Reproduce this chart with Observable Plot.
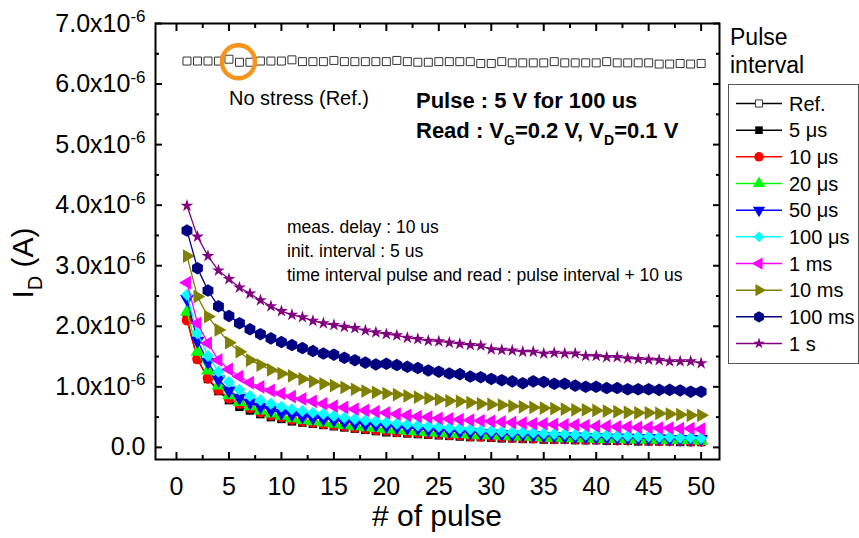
<!DOCTYPE html>
<html><head><meta charset="utf-8">
<script src="https://cdn.jsdelivr.net/npm/d3@7"></script>
<script src="https://cdn.jsdelivr.net/npm/@observablehq/plot@0.6"></script>
<style>
html,body{margin:0;padding:0;background:#fff;overflow:hidden;}
</style></head><body><div id="chart"></div>
<script>
// ---------- data ----------
const pulses = [1,2,3,4,5,6,7,8,9,10,11,12,13,14,15,16,17,18,19,20,21,22,23,24,25,26,27,28,29,30,31,32,33,34,35,36,37,38,39,40,41,42,43,44,45,46,47,48,49,50];
const seriesNames = ["Ref.", "5 μs", "10 μs", "20 μs", "50 μs", "100 μs", "1 ms", "10 ms", "100 ms", "1 s"];
// drain current in units of 1e-6 A
const refValues = [6.38,6.38,6.38,6.38,6.41,6.36,6.36,6.38,6.38,6.38,6.40,6.37,6.37,6.37,6.39,6.37,6.37,6.37,6.37,6.37,6.39,6.37,6.36,6.36,6.37,6.37,6.37,6.37,6.34,6.34,6.37,6.35,6.35,6.35,6.35,6.37,6.35,6.35,6.35,6.35,6.37,6.35,6.35,6.35,6.35,6.33,6.33,6.34,6.33,6.34];
const us5 = [2.12,1.46,1.13,0.93,0.78,0.67,0.61,0.55,0.50,0.47,0.43,0.41,0.39,0.37,0.35,0.33,0.31,0.29,0.27,0.25,0.24,0.23,0.22,0.21,0.20,0.19,0.18,0.17,0.17,0.16,0.15,0.15,0.14,0.14,0.13,0.13,0.13,0.12,0.12,0.12,0.11,0.11,0.11,0.10,0.10,0.10,0.10,0.09,0.09,0.09];
const us10 = [2.10,1.46,1.14,0.95,0.81,0.72,0.65,0.58,0.53,0.50,0.46,0.43,0.41,0.39,0.37,0.35,0.33,0.31,0.29,0.28,0.26,0.25,0.24,0.23,0.22,0.21,0.20,0.19,0.18,0.18,0.17,0.16,0.16,0.15,0.15,0.14,0.14,0.14,0.13,0.13,0.13,0.12,0.12,0.12,0.11,0.11,0.11,0.11,0.10,0.10];
const us20 = [2.24,1.58,1.27,1.02,0.86,0.75,0.68,0.61,0.56,0.52,0.48,0.45,0.43,0.41,0.39,0.37,0.35,0.33,0.32,0.30,0.29,0.27,0.26,0.25,0.24,0.23,0.22,0.21,0.20,0.20,0.19,0.18,0.18,0.17,0.16,0.16,0.15,0.15,0.15,0.14,0.14,0.14,0.13,0.13,0.13,0.12,0.12,0.12,0.12,0.11];
const us50 = [2.45,1.76,1.41,1.12,0.94,0.82,0.74,0.67,0.62,0.57,0.54,0.51,0.49,0.47,0.45,0.42,0.40,0.38,0.37,0.35,0.33,0.32,0.31,0.29,0.28,0.27,0.26,0.25,0.24,0.23,0.22,0.21,0.21,0.20,0.19,0.19,0.18,0.18,0.17,0.17,0.16,0.16,0.16,0.15,0.15,0.15,0.14,0.14,0.14,0.14];
const us100 = [2.52,1.88,1.51,1.25,1.08,0.95,0.85,0.78,0.72,0.67,0.63,0.60,0.57,0.55,0.52,0.49,0.47,0.45,0.43,0.41,0.39,0.38,0.36,0.35,0.34,0.32,0.31,0.30,0.28,0.27,0.26,0.25,0.25,0.24,0.23,0.22,0.22,0.21,0.21,0.20,0.20,0.19,0.19,0.18,0.18,0.17,0.17,0.16,0.16,0.15];
const ms1 = [2.72,2.05,1.72,1.44,1.29,1.17,1.07,1.00,0.94,0.89,0.84,0.80,0.76,0.72,0.68,0.66,0.63,0.61,0.59,0.57,0.55,0.53,0.51,0.50,0.48,0.47,0.46,0.45,0.44,0.43,0.42,0.41,0.40,0.39,0.39,0.38,0.37,0.37,0.36,0.35,0.35,0.34,0.34,0.33,0.33,0.32,0.32,0.31,0.31,0.30];
const ms10 = [3.16,2.49,2.16,1.94,1.73,1.58,1.44,1.36,1.28,1.22,1.18,1.13,1.09,1.05,1.02,0.99,0.96,0.93,0.91,0.89,0.87,0.85,0.83,0.81,0.79,0.77,0.76,0.74,0.72,0.71,0.70,0.68,0.67,0.66,0.65,0.64,0.63,0.62,0.62,0.61,0.60,0.59,0.58,0.57,0.57,0.56,0.55,0.54,0.53,0.53];
const ms100 = [3.58,2.96,2.59,2.33,2.17,2.05,1.95,1.87,1.80,1.74,1.69,1.64,1.59,1.55,1.53,1.48,1.44,1.40,1.37,1.38,1.36,1.33,1.31,1.27,1.25,1.22,1.21,1.17,1.16,1.13,1.11,1.09,1.06,1.09,1.08,1.05,1.05,1.02,1.00,1.00,0.98,0.98,0.96,0.96,0.96,0.95,0.95,0.94,0.92,0.92];
const s1 = [3.99,3.48,3.16,2.92,2.78,2.64,2.54,2.43,2.33,2.25,2.19,2.15,2.09,2.05,2.02,1.99,1.97,1.93,1.90,1.87,1.85,1.81,1.79,1.76,1.75,1.73,1.71,1.69,1.68,1.62,1.61,1.60,1.58,1.58,1.55,1.56,1.55,1.55,1.51,1.51,1.49,1.49,1.47,1.46,1.45,1.44,1.42,1.42,1.42,1.39];
const xMajorTicks = [0,5,10,15,20,25,30,35,40,45,50];
const xMinorTicks = [2.5,7.5,12.5,17.5,22.5,27.5,32.5,37.5,42.5,47.5];
const yMajorTicks = [0,1,2,3,4,5,6,7];
const yMinorTicks = [0.5,1.5,2.5,3.5,4.5,5.5,6.5];
const highlight = [{pulse: 5.9, id: 6.37}];

// ---------- symbols & styles ----------
const S3 = Math.sqrt(3);
function triangle(dir) {
  return {draw(ctx, size) {
    const t = Math.sqrt(size / (3 * S3));
    const p = {down: [[0,2*t],[S3*t,-t],[-S3*t,-t]],
               left: [[-2*t,0],[t,-S3*t],[t,S3*t]],
               right: [[2*t,0],[-t,-S3*t],[-t,S3*t]]}[dir];
    ctx.moveTo(p[0][0], p[0][1]); ctx.lineTo(p[1][0], p[1][1]); ctx.lineTo(p[2][0], p[2][1]); ctx.closePath();
  }};
}
const hexagon = {draw(ctx, size) {
  const R = Math.sqrt(2 * size / (3 * S3));
  for (let i = 0; i < 6; i++) {
    const a = -Math.PI / 2 + i * Math.PI / 3;
    if (i === 0) ctx.moveTo(R * Math.cos(a), R * Math.sin(a)); else ctx.lineTo(R * Math.cos(a), R * Math.sin(a));
  }
  ctx.closePath();
}};
const styles = [
  {color: "#000000", fill: "#ffffff", stroke: "#333333", sym: d3.symbolSquare, r: 4.5, line: false},
  {color: "#000000", sym: d3.symbolSquare, r: 4.8},
  {color: "#ff0000", sym: d3.symbolCircle, r: 5.3},
  {color: "#00ff00", sym: d3.symbolTriangle, r: 5.1},
  {color: "#0000ff", sym: triangle("down"), r: 5.1},
  {color: "#00ffff", sym: d3.symbolDiamond2, r: 5.4},
  {color: "#ff00ff", sym: triangle("left"), r: 5.1},
  {color: "#808000", sym: triangle("right"), r: 5.1},
  {color: "#000080", sym: hexagon, r: 5.7},
  {color: "#800080", sym: d3.symbolStar, r: 4.0}
];

const seriesValues = [refValues, us5, us10, us20, us50, us100, ms1, ms10, ms100, s1];
const rows = seriesNames.flatMap((name, si) => seriesValues[si].map((v, i) => ({pulse: pulses[i], id: v, series: name})));

const seriesMarks = seriesNames.flatMap((name, si) => {
  const st = styles[si];
  const d = rows.filter(r => r.series === name);
  const m = [];
  if (st.line !== false) m.push(Plot.line(d, {x: "pulse", y: "id", stroke: st.color, strokeWidth: 1.3}));
  m.push(Plot.dot(d, {x: "pulse", y: "id", symbol: st.sym, r: st.r, fill: st.fill ?? st.color, stroke: st.stroke ?? "none", strokeWidth: 1}));
  return m;
});

const chart = Plot.plot({
  width: 859, height: 538,
  marginLeft: 155, marginRight: 140, marginTop: 23, marginBottom: 79,
  style: {fontFamily: "'Liberation Sans', Arial, sans-serif", fontSize: "25px", background: "#ffffff", color: "#000"},
  x: {domain: [-2, 51.75]},
  y: {domain: [-0.2, 7.0]},
  marks: [
    ...seriesMarks,
    Plot.dot(highlight, {x: "pulse", y: "id", r: 16.5, stroke: "#f7941d", strokeWidth: 4.5, fill: "none"}),
    Plot.frame({stroke: "#000", strokeWidth: 2}),
    Plot.axisX({ticks: xMajorTicks, tickSize: -7, tickPadding: 25, fontSize: 25, strokeWidth: 2, label: null, tickFormat: d => String(d)}),
    Plot.axisX({ticks: xMinorTicks, tickSize: -4, fill: "none", strokeWidth: 2, label: null}),
    Plot.axisX({anchor: "top", ticks: xMajorTicks, tickSize: -7, fill: "none", strokeWidth: 2, label: null}),
    Plot.axisX({anchor: "top", ticks: xMinorTicks, tickSize: -4, fill: "none", strokeWidth: 2, label: null}),
    Plot.axisY({ticks: yMajorTicks, tickSize: -7, tickPadding: 17, fontSize: 25, strokeWidth: 2, label: null,
      tickFormat: d => d === 0 ? "0.0" : d.toFixed(1) + "x10"}),
    Plot.axisY({ticks: yMinorTicks, tickSize: -4, fill: "none", strokeWidth: 2, label: null}),
    Plot.axisY({anchor: "right", ticks: yMajorTicks, tickSize: -7, fill: "none", strokeWidth: 2, label: null}),
    Plot.axisY({anchor: "right", ticks: yMinorTicks, tickSize: -4, fill: "none", strokeWidth: 2, label: null})
  ]
});
document.getElementById("chart").appendChild(chart);

const svg = d3.select(chart);
// superscripts on y tick labels
svg.selectAll('g[aria-label="y-axis tick label"] text').each(function () {
  const t = d3.select(this);
  if (t.text().endsWith("x10")) t.append("tspan").attr("dy", "-0.55em").attr("font-size", "17px").text("-6");
});

function addText(x, y, size, str, anchor = "start") {
  return svg.append("text").attr("x", x).attr("y", y).attr("font-size", size + "px")
    .attr("text-anchor", anchor).attr("fill", "#000").text(str);
}

// axis titles
const yt = svg.append("text").attr("transform", "translate(33,263) rotate(-90)")
  .attr("text-anchor", "middle").attr("font-size", "30px").attr("fill", "#000");
yt.append("tspan").text("I");
yt.append("tspan").attr("font-size", "20px").attr("dy", "9").text("D");
yt.append("tspan").attr("dy", "-9").text(" (A)");
addText(437, 526, 30, "# of pulse", "middle");

// annotations
addText(229, 104.5, 20, "No stress (Ref.)");
addText(416, 108, 22, "Pulse : 5 V for 100 us").attr("font-weight", "bold");
const rd = svg.append("text").attr("x", 416).attr("y", 137.5).attr("font-size", "22px")
  .attr("font-weight", "bold").attr("text-anchor", "start").attr("fill", "#000");
rd.append("tspan").text("Read : V");
rd.append("tspan").attr("font-size", "14px").attr("dy", "7").text("G");
rd.append("tspan").attr("dy", "-7").text("=0.2 V, V");
rd.append("tspan").attr("font-size", "14px").attr("dy", "7").text("D");
rd.append("tspan").attr("dy", "-7").text("=0.1 V");
const notes = ["meas. delay : 10 us", "init. interval : 5 us", "time interval pulse and read : pulse interval + 10 us"];
notes.forEach((s, i) => addText(287, 233 + i * 24, 17.5, s));

// legend
addText(730, 45, 23, "Pulse");
addText(730, 73, 23, "interval");
svg.append("rect").attr("x", 728.5).attr("y", 84.5).attr("width", 130).attr("height", 279)
  .attr("fill", "#fff").attr("stroke", "#555").attr("stroke-width", 1);
seriesNames.forEach((name, i) => {
  const st = styles[i];
  const cy = 103.5 + i * 26.67;
  const g = svg.append("g");
  g.append("line").attr("x1", 736).attr("x2", 782).attr("y1", cy).attr("y2", cy).attr("stroke", st.color).attr("stroke-width", 1.5);
  g.append("path").attr("transform", `translate(759,${cy})`)
    .attr("d", d3.symbol().type(st.sym).size(Math.PI * st.r * st.r * 0.8)())
    .attr("fill", st.fill ?? st.color).attr("stroke", st.stroke ?? "none");
  g.append("text").attr("x", 789).attr("y", cy + 7).attr("font-size", "20px")
    .attr("text-anchor", "start").attr("fill", "#000").text(name);
});
</script></body></html>
